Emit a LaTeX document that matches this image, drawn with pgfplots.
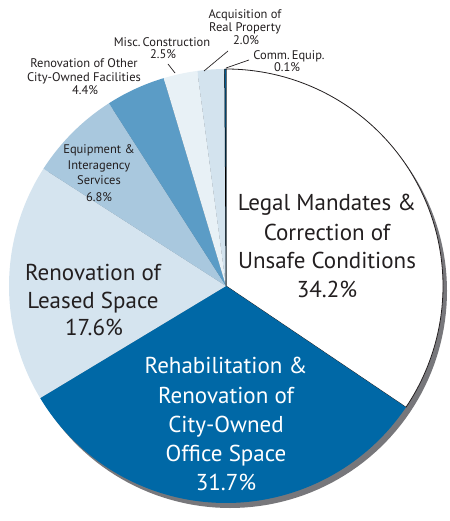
\documentclass[border=0pt]{standalone}
\usepackage{pgfplots}
\pgfplotsset{compat=1.18}
\usepackage{pgfplotstable}
\usepackage{fontspec}
\setmainfont{PT Sans}
\definecolor{dkblue}{HTML}{0068A6}
\definecolor{cLeased}{HTML}{D5E4EF}
\definecolor{cEquip}{HTML}{A9C8DE}
\definecolor{cOther}{HTML}{5B9CC6}
\definecolor{cMisc}{HTML}{E8F1F6}
\definecolor{cAcq}{HTML}{D3E3EE}
\definecolor{cShadow}{HTML}{77777B}
\definecolor{txt}{HTML}{231F20}
\tikzset{
  big/.style={font=\fontsize{23}{28}\selectfont},
  small/.style={font=\fontsize{12.5}{13}\selectfont, text=txt},
}

% share (%), fill, edge colour, edge width (pt) -- clockwise from 12 o'clock
\pgfplotstableread{
value fill   edge    lw
34.2  white  txt     0.8
31.7  dkblue none    0
17.6  cLeased none   0
6.8   cEquip none    0
4.4   cOther none    0
2.5   cMisc  none    0
2.0   cAcq   none    0
0.1   dkblue black   0.5
}\piedata

\newcommand\tl[4]{\node[anchor=base, inner sep=0pt, #3] at (axis cs:#1,#2) {#4};}

\begin{document}
\begin{tikzpicture}
\begin{axis}[
  x=1pt, y=1pt, xmin=0, xmax=449, ymin=0, ymax=521,
  y dir=reverse, hide axis, clip=false, scale only axis,
]
\path (axis cs:0,0) (axis cs:449,521);
% shadow
\addplot[fill=cShadow, draw=none, domain=0:360, samples=181]
  ({230+217*cos(x)},{291-217*sin(x)}) -- cycle;
% slices
\pgfplotstablegetrowsof{\piedata}\let\nrows\pgfplotsretval
\pgfmathtruncatemacro\lastrow{\nrows-1}
\def\tot{0}
\pgfplotsforeachungrouped \i in {0,...,\lastrow}{%
  \pgfplotstablegetelem{\i}{value}\of\piedata
  \pgfmathsetmacro\tot{\tot+\pgfplotsretval}%
}
\def\cum{0}
\pgfplotsforeachungrouped \i in {0,...,\lastrow}{%
  \pgfplotstablegetelem{\i}{value}\of\piedata \let\v\pgfplotsretval
  \pgfplotstablegetelem{\i}{fill}\of\piedata \let\f\pgfplotsretval
  \pgfplotstablegetelem{\i}{edge}\of\piedata \let\e\pgfplotsretval
  \pgfplotstablegetelem{\i}{lw}\of\piedata \let\w\pgfplotsretval
  \pgfmathsetmacro\aS{90-(\cum/\tot)*360}%
  \pgfmathsetmacro\cum{\cum+\v}%
  \pgfmathsetmacro\aE{90-(\cum/\tot)*360}%
  \edef\doit{\noexpand\addplot[fill=\f, draw=\e, line width=\w pt, line join=round, domain=\aE:\aS, samples=121]
    ({226+217*cos(x)},{286-217*sin(x)}) -- (axis cs:226,286) -- cycle;}%
  \doit
}
% leader lines
\draw[txt, line width=0.7pt] (axis cs:168,64) -- (axis cs:175,73);
\draw[txt, line width=0.7pt] (axis cs:204,71) -- (axis cs:228,51);
\draw[txt, line width=0.7pt] (axis cs:226,68) -- (axis cs:249,60);
% big labels
\tl{327}{211}{big, text=txt}{Legal Mandates \&}
\tl{327}{240}{big, text=txt}{Correction of}
\tl{327}{268}{big, text=txt}{Unsafe Conditions}
\tl{327}{297}{big, text=txt}{34.2\%}
\tl{226}{373}{big, text=white}{Rehabilitation \&}
\tl{226}{403}{big, text=white}{Renovation of}
\tl{226}{432}{big, text=white}{City-Owned}
\tl{226}{461}{big, text=white}{Office Space}
\tl{226}{490}{big, text=white}{31.7\%}
\tl{93}{280}{big, text=txt}{Renovation of}
\tl{93}{308}{big, text=txt}{Leased Space}
\tl{94}{335}{big, text=txt}{17.6\%}
% small labels
\tl{99}{154}{small}{Equipment \&}
\tl{99}{170}{small}{Interagency}
\tl{99}{185}{small}{Services}
\tl{99}{201}{small}{6.8\%}
\tl{84}{68}{small}{Renovation of Other}
\tl{84}{82}{small}{City-Owned Facilities}
\tl{85}{95}{small}{4.4\%}
\tl{162}{47}{small}{Misc.\,Construction}
\tl{163}{59}{small}{2.5\%}
\tl{245}{19}{small}{Acquisition of}
\tl{245}{32}{small}{Real Property}
\tl{246}{45}{small}{2.0\%}
\tl{289}{60}{small}{Comm.\,Equip.}
\tl{287}{72}{small}{0.1\%}
\end{axis}
\end{tikzpicture}
\end{document}
